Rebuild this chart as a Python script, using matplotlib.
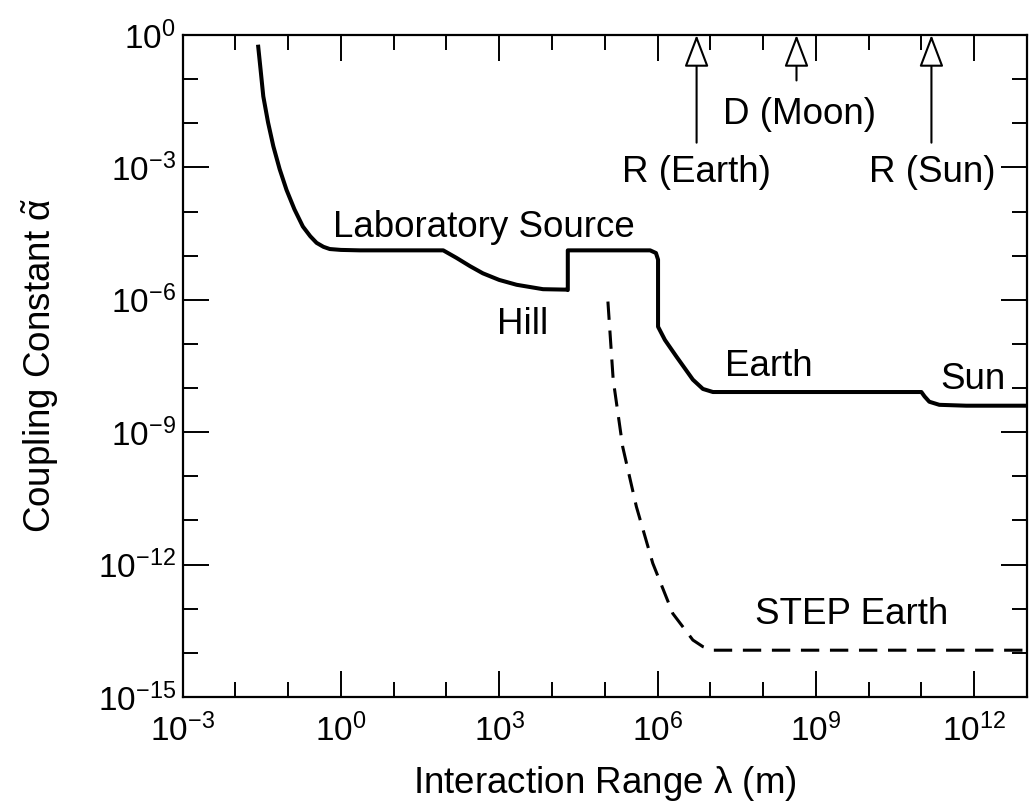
import numpy as np
import matplotlib
matplotlib.use('Agg')
import matplotlib.pyplot as plt
from matplotlib.ticker import FixedLocator, FuncFormatter, NullFormatter

plt.rcParams['font.family'] = ['Liberation Sans', 'DejaVu Sans']
plt.rcParams['mathtext.fontset'] = 'custom'
plt.rcParams['mathtext.rm'] = 'Liberation Sans'
plt.rcParams['mathtext.it'] = 'Liberation Sans'
plt.rcParams['mathtext.default'] = 'regular'

# exponents (log10)
lab_log_x = [-1.57, -1.52, -1.47, -1.38, -1.28, -1.16, -1.03, -0.88, -0.72, -0.58, -0.46, -0.33, -0.21, 0.0, 0.36,
             1.0, 1.94, 2.19, 2.45, 2.69, 3.0, 3.33, 3.83, 4.27, 4.30, 4.30, 5.86, 5.97, 6.01, 6.01, 6.14, 6.36,
             6.67, 6.86, 7.05, 11.0, 11.06, 11.15, 11.34, 11.85, 13.0]
lab_log_y = [-0.22, -0.80, -1.39, -1.98, -2.52, -3.04, -3.51, -3.95, -4.34, -4.56, -4.71, -4.80, -4.85, -4.87, -4.88,
             -4.88, -4.88, -5.05, -5.24, -5.40, -5.55, -5.66, -5.76, -5.77, -5.78, -4.88, -4.88, -4.94, -5.09, -6.61,
             -6.91, -7.29, -7.81, -8.02, -8.09, -8.09, -8.19, -8.31, -8.38, -8.40, -8.40]

step_log_x = [5.06, 5.16, 5.34, 5.60, 5.91, 6.29, 6.67, 6.86, 7.05, 13.0]
step_log_y = [-6.04, -7.81, -9.33, -10.69, -11.97, -13.11, -13.71, -13.86, -13.94, -13.94]

# reference distances marked with arrows (m)
marker_names = ['R (Earth)', 'D (Moon)', 'R (Sun)']
marker_x = [5.5e6, 4.3e8, 1.55e11]
marker_tail_y = [10**-2.44, 10**-1.03, 10**-2.44]
marker_label_pos = [(10**6.74, 10**-3.12), (10**8.69, 10**-1.80), (10**11.21, 10**-3.12)]

region_labels = ['Laboratory Source', 'Hill', 'Earth', 'Sun', 'STEP Earth']
region_pos = [(10**2.71, 10**-4.37), (10**3.45, 10**-6.57), (10**8.10, 10**-7.52),
              (10**11.97, 10**-7.81), (10**9.68, 10**-13.14)]

fig = plt.figure(figsize=(10.29, 8.08), dpi=100)
ax = fig.add_axes([0.1774, 0.1374, 0.8206, 0.8193])

ax.plot(np.power(10.0, lab_log_x), np.power(10.0, lab_log_y), color='black', lw=2.9,
        solid_joinstyle='round', solid_capstyle='butt')
ax.plot(np.power(10.0, step_log_x), np.power(10.0, step_log_y), color='black', lw=2.2,
        dashes=(6, 3.5))

ax.set_xscale('log')
ax.set_yscale('log')
ax.set_xlim(1e-3, 1e13)
ax.set_ylim(1e-15, 1e0)

for name, x, ty, (lx, ly) in zip(marker_names, marker_x, marker_tail_y, marker_label_pos):
    ax.annotate('', xy=(x, 1.0), xytext=(x, ty),
                arrowprops=dict(arrowstyle='-|>,head_length=1.0,head_width=0.38', fc='white', ec='black',
                                lw=1.5, mutation_scale=20, shrinkA=0, shrinkB=0))
    ax.text(lx, ly, name, ha='center', va='center', fontsize=26.5)

for name, (lx, ly) in zip(region_labels, region_pos):
    ax.text(lx, ly, name, ha='center', va='center', fontsize=26.5)

ax.xaxis.set_major_locator(FixedLocator([10.0**k for k in range(-3, 14, 3)]))
ax.xaxis.set_minor_locator(FixedLocator([10.0**k for k in range(-3, 14) if k % 3 != 0]))
ax.yaxis.set_major_locator(FixedLocator([10.0**k for k in range(-15, 1, 3)]))
ax.yaxis.set_minor_locator(FixedLocator([10.0**k for k in range(-15, 1) if k % 3 != 0]))
fmt = FuncFormatter(lambda v, p: r'$10^{%d}$' % int(round(np.log10(v))))
ax.xaxis.set_major_formatter(fmt)
ax.yaxis.set_major_formatter(fmt)
ax.xaxis.set_minor_formatter(NullFormatter())
ax.yaxis.set_minor_formatter(NullFormatter())

ax.tick_params(which='both', direction='in', top=True, right=True, width=1.4, labelsize=24)
ax.tick_params(which='major', length=19)
ax.tick_params(which='minor', length=11)
ax.tick_params(axis='x', pad=12)
ax.tick_params(axis='y', pad=5)
for s in ax.spines.values():
    s.set_linewidth(1.6)

ax.set_xlabel(r'Interaction Range $\lambda$ (m)', fontsize=26.5, va='center')
ax.set_ylabel(r'Coupling Constant $\tilde{\alpha}$', fontsize=26.5, va='center')
ax.xaxis.set_label_coords(0.5, -0.130)
ax.yaxis.set_label_coords(-0.168, 0.5)

fig.savefig('out.png', dpi=100)
